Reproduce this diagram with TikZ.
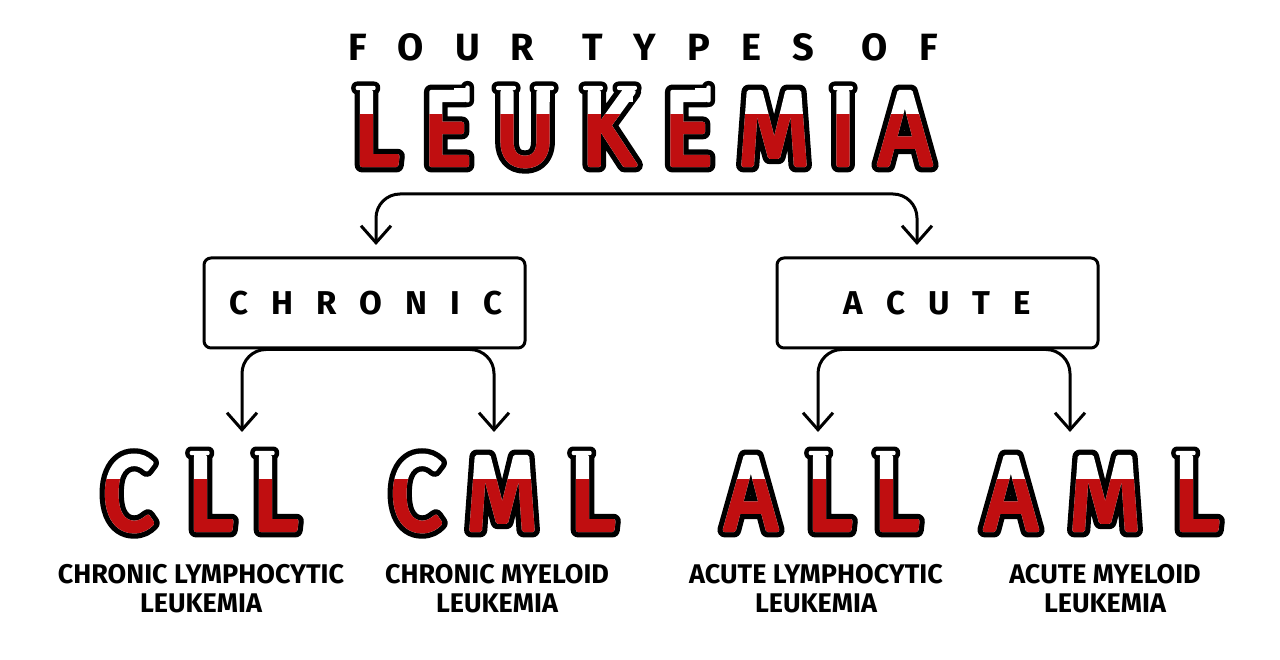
\documentclass[tikz,border=0pt]{standalone}
\usepackage{fontspec}
\usetikzlibrary{arrows.meta}
\setmainfont{Fira Sans}
\newfontfamily\tubeout[FakeBold=14,FakeStretch=0.88]{Fira Sans}
\newfontfamily\tubein[FakeBold=4,FakeStretch=0.88]{Fira Sans}
\newfontfamily\lblfont{Fira Sans}
\definecolor{blood}{RGB}{192,14,16}
\newcommand\gapS{\kern23pt}
\newcommand\gapT{\kern31pt}
\newcommand\gapW{\kern48pt}
\newif\ifoutl
\tikzset{
  bigsz/.style={font=#1\fontsize{106pt}{110pt}\selectfont},
  tubeO/.style={anchor=base, inner sep=0pt, text=black, line join=round, bigsz=\tubeout},
  tubeW/.style={anchor=base, inner sep=0pt, text=white, line join=round, bigsz=\tubein},
  tubeR/.style={anchor=base, inner sep=0pt, text=blood, line join=round, bigsz=\tubein},
  headtxt/.style={anchor=base, inner sep=0pt, font=\lblfont\bfseries\fontsize{38pt}{40pt}\selectfont},
  catbox/.style={draw, line width=3pt, rounded corners=7pt, minimum width=321pt, minimum height=90pt, inner sep=0pt},
  cattxt/.style={anchor=base, inner sep=0pt, font=\lblfont\bfseries\fontsize{33pt}{35pt}\selectfont},
  lbl/.style={anchor=base, inner sep=0pt, align=center, font=\lblfont\bfseries\fontsize{27pt}{29pt}\selectfont},
  conn/.style={line width=3pt, rounded corners=24pt, {Straight Barb[length=17pt,width=30pt]}-{Straight Barb[length=17pt,width=30pt]}}
}
% horizontal lip on top of a stem (x, y = lip centre)
\newcommand\lipH[2]{%
  \ifoutl
    \fill[black, rounded corners=6pt] (#1-14.5,#2-6.5) rectangle (#1+14.5,#2+6.5);
  \else
    \fill[white, rounded corners=2pt] (#1-10,#2-2.2) rectangle (#1+10,#2+2.2);
    \fill[white] (#1-5.5,#2) rectangle (#1+5.5,#2+14);
  \fi}
% vertical lip at the end of a bar (x, y = lip centre)
\newcommand\lipV[2]{%
  \ifoutl
    \fill[black, rounded corners=6pt] (#1-6.5,#2-13) rectangle (#1+6.5,#2+13);
  \else
    \fill[white, rounded corners=2pt] (#1-2.2,#2-8.5) rectangle (#1+2.2,#2+8.5);
    \fill[white] (#1-14,#2-5.5) rectangle (#1,#2+5.5);
  \fi}
% tube letter: name, x, baseline y, letter, fill level y, lips
\newcommand\tube[6]{%
  \node[tubeO] (#1o) at (#2,#3) {#4};
  \outltrue #6
  \node[tubeW] (#1w) at (#2,#3) {#4};
  \outlfalse #6
  \begin{scope}
    \clip (#2-70,#5) rectangle (#2+70,#3+25);
    \node[tubeR] (#1r) at (#2,#3) {#4};
  \end{scope}}
\begin{document}
\begin{tikzpicture}[x=1pt,y=-1pt,line join=round]
\useasboundingbox (0,0) rectangle (1280,660);
\fill[white] (0,0) rectangle (1280,660);
% heading
\node[headtxt] (four) at (643,61) {F\gapT O\gapT U\gapT R\gapW T\gapT Y\gapT P\gapT E\gapT S\gapW O\gapT F};
% LEUKEMIA
\tube{w1}{376}{165}{L}{115}{\lipH{365.7}{88}}
\tube{w2}{447}{165}{E}{115}{\lipV{467.5}{94}}
\tube{w3}{525}{165}{U}{115}{\lipH{506}{88}\lipH{544}{88}}
\tube{w4}{608}{165}{K}{115}{\lipH{593}{88}\lipH{627}{88}}
\tube{w5}{688}{165}{E}{115}{\lipV{708.5}{94}}
\tube{w6}{774}{165}{M}{115}{}
\tube{w7}{843}{165}{I}{115}{\lipH{843}{88}}
\tube{w8}{905}{165}{A}{115}{}
% category boxes
\node[catbox] (chronic) at (364.5,303) {};
\node[cattxt] (chronictxt) at (366,315) {C\gapS H\gapS R\gapS O\gapS N\gapS I\gapS C};
\node[catbox] (acute) at (937.5,303) {};
\node[cattxt] (acutetxt) at (937.5,315) {A\gapS C\gapS U\gapS T\gapS E};
% connectors
\coordinate (split) at (646,194);
\coordinate (chrIn) at (376,245);
\coordinate (acuIn) at (917,245);
\coordinate (cllIn) at (242,432);
\coordinate (cmlIn) at (494,432);
\coordinate (allIn) at (818,432);
\coordinate (amlIn) at (1070,432);
\draw[conn] (chrIn) |- (split) -| (acuIn);
\draw[conn] (cllIn) |- (chronic.south) -| (cmlIn);
\draw[conn] (allIn) |- (acute.south) -| (amlIn);
% acronyms
\tube{c1}{128}{530}{C}{479}{}
\tube{c2}{210}{530}{L}{479}{\lipH{199.7}{453}}
\tube{c3}{275}{530}{L}{479}{\lipH{264.7}{453}}
\tube{m1}{416}{530}{C}{479}{}
\tube{m2}{502}{530}{M}{479}{}
\tube{m3}{592}{530}{L}{479}{\lipH{581.7}{453}}
\tube{a1}{751}{530}{A}{479}{}
\tube{a2}{829}{530}{L}{479}{\lipH{818.7}{453}}
\tube{a3}{896}{530}{L}{479}{\lipH{885.7}{453}}
\tube{b1}{1011}{530}{A}{479}{}
\tube{b2}{1105}{530}{M}{479}{}
\tube{b3}{1196}{530}{L}{479}{\lipH{1185.7}{453}}
% labels
\node[lbl] (cllLab) at (201,612) {CHRONIC LYMPHOCYTIC\\LEUKEMIA};
\node[lbl] (cmlLab) at (497,612) {CHRONIC MYELOID\\LEUKEMIA};
\node[lbl] (allLab) at (816,612) {ACUTE LYMPHOCYTIC\\LEUKEMIA};
\node[lbl] (amlLab) at (1105,612) {ACUTE MYELOID\\LEUKEMIA};
\end{tikzpicture}
\end{document}
